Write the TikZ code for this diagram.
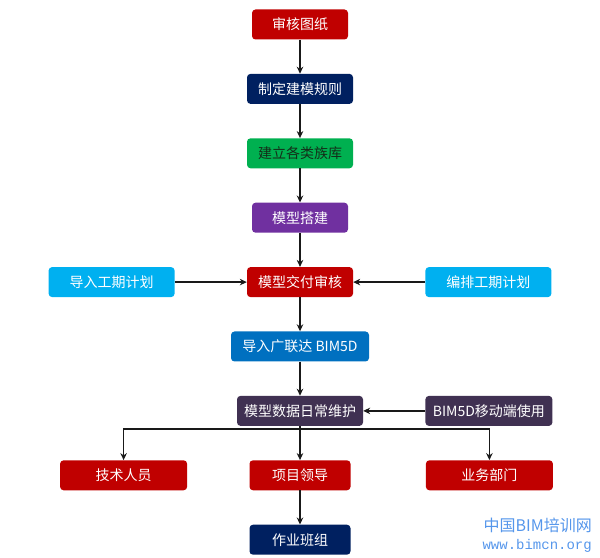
\documentclass[tikz,border=0pt]{standalone}
\usepackage{fontspec}
\setmainfont{Noto Sans CJK SC}
\newfontfamily\urlfont{Liberation Mono}
\usepackage{xcolor}
\usepackage{tikz}
\usetikzlibrary{positioning, arrows.meta}
\definecolor{boxred}{RGB}{192,0,0}
\definecolor{boxnavy}{RGB}{0,32,96}
\definecolor{boxgreen}{RGB}{0,176,80}
\definecolor{boxpurple}{RGB}{112,48,160}
\definecolor{boxsky}{RGB}{0,176,240}
\definecolor{boxblue}{RGB}{0,112,192}
\definecolor{boxdark}{RGB}{64,49,82}
\definecolor{libtext}{RGB}{20,45,25}
\definecolor{siteblue}{RGB}{85,150,235}
\tikzset{->,>={Stealth[length=7bp,width=6.5bp]},
node distance=34bp,
box/.style={rounded corners=3.5bp, minimum height=30bp, inner sep=0pt,
  text=white, font=\fontsize{14bp}{16bp}\selectfont},
flow/.style={line width=1.3bp, draw=black!90},
watermark/.style={text=siteblue, inner sep=0pt}}

\begin{document}
\begin{tikzpicture}[x=1bp,y=1bp]
\useasboundingbox (0,0) rectangle (600,-558);
\node[box, fill=boxred, minimum width=96bp] (drawing) at (300,-24.5) {审核图纸};
\node[box, fill=boxnavy, minimum width=106bp, below=of drawing] (rules) {制定建模规则};
\node[box, fill=boxgreen, text=libtext, minimum width=106bp, below=of rules] (library) {建立各类族库};
\node[box, fill=boxpurple, minimum width=96bp, below=of library] (build) {模型搭建};
\node[box, fill=boxred, minimum width=106bp, below=of build] (audit) {模型交付审核};
\node[box, fill=boxsky, minimum width=126bp, left=72bp of audit] (import) {导入工期计划};
\node[box, fill=boxsky, minimum width=126bp, right=72bp of audit] (schedule) {编排工期计划};
\node[box, fill=boxblue, minimum width=138bp, below=of audit] (gld) {导入广联达 BIM5D};
\node[box, fill=boxdark, minimum width=126bp, below=of gld] (daily) {模型数据日常维护};
\node[box, fill=boxdark, minimum width=127bp, right=62bp of daily] (mobile) {BIM5D移动端使用};
\node[box, fill=boxred, minimum width=101bp, below=of daily] (lead) {项目领导};
\node[box, fill=boxred, minimum width=127bp, left=62bp of lead] (tech) {技术人员};
\node[box, fill=boxred, minimum width=127bp, right=75bp of lead] (dept) {业务部门};
\node[box, fill=boxnavy, minimum width=101bp, below=of lead] (team) {作业班组};
\coordinate[below=3bp of daily] (split);
% watermark
\node[watermark, anchor=north east, font=\fontsize{16bp}{18bp}\selectfont] (siteCN) at (592,-518) {中国BIM培训网};
\node[watermark, anchor=north east, font=\urlfont\fontsize{14bp}{16bp}\selectfont] (siteURL) at (592,-539) {www.bimcn.org};
\draw[flow]
(drawing) edge (rules)
(rules) edge (library)
(library) edge (build)
(build) edge (audit)
(import) edge (audit)
(schedule) edge (audit)
(audit) edge (gld)
(gld) edge (daily)
(mobile) edge (daily)
(daily) edge (lead)
(lead) edge (team)
;
\draw[flow] (split) -| (tech);
\draw[flow] (split) -| (dept);
\end{tikzpicture}
\end{document}
